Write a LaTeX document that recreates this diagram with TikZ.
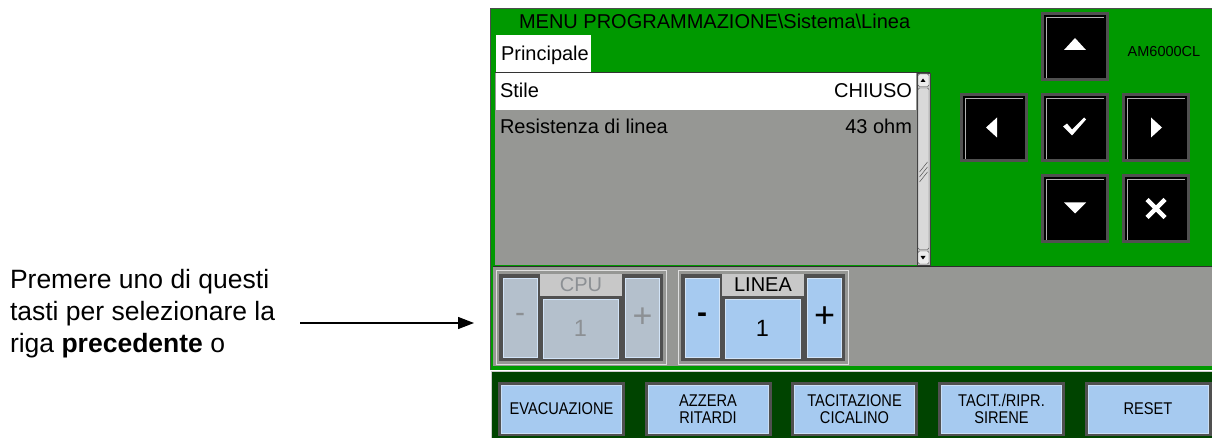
\documentclass[tikz,border=0pt]{standalone}
\usepackage{fontspec}
\setmainfont{Liberation Sans}
\newfontfamily\narrowfont[FakeStretch=0.86]{Liberation Sans}
\usetikzlibrary{positioning,arrows.meta}
\definecolor{scrgreen}{RGB}{0,153,0}
\definecolor{bargreen}{RGB}{0,68,0}
\definecolor{panelgrey}{RGB}{150,151,148}
\definecolor{keyblue}{RGB}{166,202,240}
\definecolor{offblue}{RGB}{180,192,204}
\definecolor{rimgrey}{RGB}{80,80,80}
\definecolor{labgrey}{RGB}{200,200,200}
\definecolor{dimtext}{RGB}{140,144,148}

\begin{document}
\begin{tikzpicture}[x=1pt, y=-1pt,
    every node/.style = {inner sep=0pt, outer sep=0pt},
    scr/.style = {font=\fontsize{20}{24}\selectfont},
    navkey/.style = {fill=black, draw=rimgrey, line width=3pt, minimum width=65pt, minimum height=66pt,
        path picture={\draw[gray!60, line width=1.5pt]
            ([shift={(4pt,-4pt)}]path picture bounding box.south west)
            -- ([shift={(4pt,-4pt)}]path picture bounding box.north west)
            -- ([shift={(-4pt,-4pt)}]path picture bounding box.north east);}},
    pmkey/.style = {draw=keyblue!50!white, line width=0.8pt, minimum width=34pt, minimum height=79pt},
    valbox/.style = {draw=keyblue!50!white, line width=0.8pt, minimum width=75pt, minimum height=59pt,
        font=\fontsize{23.5}{26}\selectfont},
    tagbox/.style = {fill=labgrey, minimum width=82pt, minimum height=22pt, scr},
    softkey/.style = {fill=keyblue, draw=keyblue!60!white, line width=1pt, minimum width=120pt, minimum height=48pt,
        align=center, font=\narrowfont\fontsize{17}{17}\selectfont},
    softrim/.style = {fill=rimgrey, minimum width=127pt, minimum height=54pt}]
    \useasboundingbox (0,0) rectangle (1212,438);

    % screen
    \fill[scrgreen] (490,8) rectangle (1212,370);
    \draw[gray!60!black, line width=1.2pt] (490.6,370) |- (1212,8.6);
    \node[scr, anchor=base west] (title) at (519,29) {MENU PROGRAMMAZIONE\textbackslash Sistema\textbackslash Linea};
    \node[fill=white, minimum width=95pt, minimum height=37pt, anchor=north west] (tab) at (496,35) {};
    \node[scr, anchor=base west] (tabtext) at (501,61) {Principale};

    % list
    \fill[panelgrey] (495,72) rectangle (917,265);
    \draw[gray!40!black, line width=1pt] (495,72.5) -- (930,72.5);
    \fill[white] (496,73) rectangle (916,110);
    \node[scr, anchor=base west] (stile) at (500,98) {Stile};
    \node[scr, anchor=base east] (chiuso) at (912,98) {CHIUSO};
    \node[scr, anchor=base west] (resist) at (500,134) {Resistenza di linea};
    \node[scr, anchor=base east] (ohm) at (912,134) {43 ohm};

    % scrollbar
    \fill[gray!45] (917,73) rectangle (930,265);
    \draw[gray!50!black, line width=0.8pt] (917,73) rectangle (930,265);
    \draw[fill=gray!15, draw=gray!70!black, rounded corners=1.5pt] (918,74) rectangle (929,86.5);
    \fill[black] (920.5,82) -- (925.5,82) -- (923,78.5) -- cycle;
    \draw[fill=gray!30, draw=gray!70!black, rounded corners=1.5pt] (918,88) rectangle (929,249.5);
    \foreach \g in {0,5,10}
        \draw[gray!65!black, line width=0.5pt] (919.5,172+\g) -- (927.5,162+\g);
    \draw[fill=gray!15, draw=gray!70!black, rounded corners=1.5pt] (918,251) rectangle (929,264);
    \fill[black] (920.5,256) -- (925.5,256) -- (923,259.5) -- cycle;

    % lower panel
    \fill[panelgrey] (493,266.5) rectangle (1212,366);
    \draw[gray!35!black, line width=1.2pt] (493,266.5) -- (1212,266.5);

    % CPU group
    \draw[gray!25, line width=0.8pt] (496.5,270.5) rectangle (666,364);
    \fill[rimgrey] (499,274) rectangle (663,361);
    \node[pmkey, fill=offblue, text=dimtext, font=\fontsize{30}{30}\selectfont] (cpuminus) at (520,317.5) {-};
    \node[tagbox, text=dimtext] (cpulab) at (581,285) {CPU};
    \node[valbox, fill=offblue, text=dimtext] (cpuval) at (580.5,328.5) {1};
    \node[pmkey, fill=offblue, text=dimtext, font=\fontsize{34}{34}\selectfont] (cpuplus) at (642.5,317.5) {+};

    % LINEA group
    \draw[gray!25, line width=0.8pt] (678.5,270.5) rectangle (848,364);
    \fill[rimgrey] (681,274) rectangle (845,361);
    \node[pmkey, fill=keyblue, font=\bfseries\fontsize{30}{30}\selectfont] (linminus) at (702,317.5) {-};
    \node[tagbox] (linlab) at (763,285) {LINEA};
    \node[valbox, fill=keyblue] (linval) at (762.5,328.5) {1};
    \node[pmkey, fill=keyblue, font=\fontsize{36}{36}\selectfont] (linplus) at (824.5,317.5) {+};

    % navigation keys
    \node[navkey] (up) at (1075,46.5) {};
    \node[navkey] (left) at (994,127.5) {};
    \node[navkey] (ok) at (1075,127.5) {};
    \node[navkey] (right) at (1156,127.5) {};
    \node[navkey] (down) at (1075,208.5) {};
    \node[navkey] (cancel) at (1156,208.5) {};
    \fill[white, shift={(up.center)}] (-11,3.5) -- (11,3.5) -- (0,-8.5) -- cycle;
    \fill[white, shift={(down.center)}] (-11,-6) -- (11,-6) -- (0,5) -- cycle;
    \fill[white, shift={(left.center)}] (3,-10) -- (3,10) -- (-8,0) -- cycle;
    \fill[white, shift={(right.center)}] (-5,-10) -- (-5,10) -- (6,0) -- cycle;
    \fill[white, shift={(ok.center)}] (-12,-1) -- (-8,-4) -- (-3,2) -- (9,-10) -- (11,-8) -- (-3,8) -- cycle;
    \draw[white, line width=4.5pt, shift={(cancel.center)}] (-9,-9) -- (9,9) (9,-9) -- (-9,9);
    \node[font=\fontsize{14.5}{16}\selectfont] (model) at (1164,52) {AM6000CL};

    % softkey bar
    \fill[bargreen] (491,371) rectangle (1212,438);
    \draw[gray!40, line width=1.2pt] (491.6,438) -- (491.6,371.6) -- (1212,371.6);
    \foreach \x/\name/\txt in {561.5/evac/EVACUAZIONE, 708/azz/{AZZERA\\RITARDI}, 854.5/tacit/{TACITAZIONE\\CICALINO},
            1001.5/sir/{TACIT./RIPR.\\SIRENE}, 1148/reset/RESET} {
        \node[softrim] (\name rim) at (\x,409) {};
        \node[softkey] (\name) at (\x,409) {\txt};
    }

    % note with arrow
    \node[anchor=north west, align=left, font=\fontsize{26.5}{32}\selectfont] (note) at (10,269)
        {Premere uno di questi\\tasti per selezionare la\\riga \textbf{precedente} o};
    \coordinate (tail) at (300,323);
    \coordinate (tip) at (474,323);
    \draw[-{Triangle[length=16pt, width=12pt]}, line width=1.3pt] (tail) -- (tip);
\end{tikzpicture}
\end{document}
